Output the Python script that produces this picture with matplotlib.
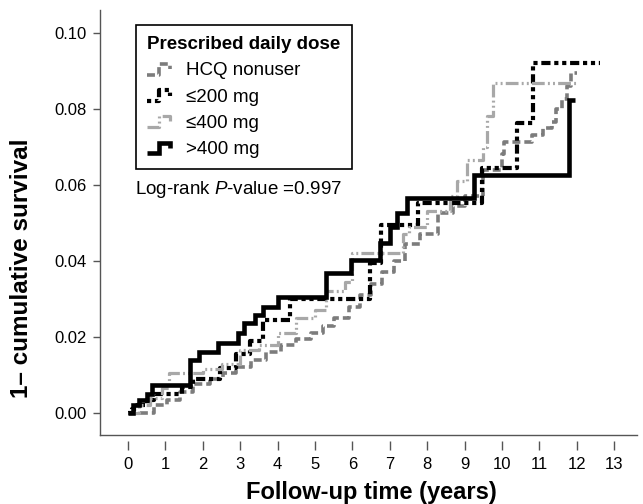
"""Cumulative incidence (1 - survival) by prescribed daily HCQ dose."""

import matplotlib

matplotlib.use("Agg")
import matplotlib.pyplot as plt
from matplotlib.legend_handler import HandlerBase
from matplotlib.lines import Line2D

plt.rcParams["font.family"] = ["Liberation Sans", "DejaVu Sans"]
plt.rcParams["mathtext.fontset"] = "custom"
plt.rcParams["mathtext.rm"] = "Liberation Sans"
plt.rcParams["mathtext.it"] = "Liberation Sans:italic"

# step curves (time in years, 1 - cumulative survival)
nonuser_t = [0, 0.45, 0.7, 1.05, 1.4, 1.75, 2.2, 2.55, 2.9, 3.3, 3.7, 4.1, 4.5, 4.9, 5.2, 5.5,
             5.9, 6.2, 6.5, 6.8, 7.1, 7.4, 7.8, 8.3, 8.7, 9.0, 9.5, 10.0, 10.05, 10.8, 11.1,
             11.35, 11.45, 11.6, 11.75, 11.85, 12.0]
nonuser_y = [0, 0.0, 0.002, 0.0035, 0.0055, 0.0075, 0.009, 0.0105, 0.012, 0.014, 0.016, 0.018,
             0.0195, 0.021, 0.023, 0.025, 0.028, 0.031, 0.034, 0.037, 0.040, 0.0445, 0.047,
             0.0525, 0.0545, 0.057, 0.064, 0.068, 0.0712, 0.073, 0.075, 0.0766, 0.080, 0.0825,
             0.086, 0.0895, 0.0895]

le200_t = [0, 0.1, 0.25, 0.5, 0.7, 1.45, 1.75, 2.45, 2.9, 3.25, 3.6, 4.33, 6.47, 6.76, 7.76,
           9.47, 10.4, 10.84, 12.63]
le200_y = [0, 0.001, 0.002, 0.0035, 0.005, 0.0068, 0.0089, 0.0118, 0.0155, 0.019, 0.0245,
           0.030, 0.0395, 0.0495, 0.0553, 0.0645, 0.0763, 0.0921, 0.0921]

le400_t = [0, 0.3, 0.6, 0.9, 1.1, 2.0, 2.5, 3.0, 3.5, 4.0, 4.5, 5.0, 5.3, 5.8, 6.0, 6.7, 7.35,
           7.5, 8.0, 8.6, 8.8, 9.07, 9.5, 9.6, 9.77, 12.0]
le400_y = [0, 0.002, 0.004, 0.0065, 0.0105, 0.0115, 0.013, 0.0165, 0.018, 0.021, 0.025, 0.027,
           0.032, 0.0345, 0.042, 0.042, 0.047, 0.049, 0.053, 0.057, 0.061, 0.0665, 0.070,
           0.078, 0.0868, 0.0868]

gt400_t = [0, 0.12, 0.3, 0.5, 0.65, 1.65, 1.9, 2.4, 2.95, 3.1, 3.4, 3.6, 4.0, 5.3, 5.95, 6.75,
           7.0, 7.2, 7.45, 9.25, 11.8, 11.95]
gt400_y = [0, 0.002, 0.0035, 0.005, 0.0073, 0.014, 0.016, 0.0184, 0.021, 0.0237, 0.0258, 0.028,
           0.0305, 0.0368, 0.0403, 0.0447, 0.049, 0.0526, 0.0566, 0.0626, 0.0824, 0.0824]

labels = ["HCQ nonuser", "\u2264200 mg", "\u2264400 mg", ">400 mg"]
x_ticks = list(range(0, 14))
y_ticks = [0.00, 0.02, 0.04, 0.06, 0.08, 0.10]


class StepHandler(HandlerBase):
    """Draw legend keys as a small step instead of a flat line."""

    def create_artists(self, legend, orig_handle, xdescent, ydescent, width, height, fontsize, trans):
        x0, y0 = -xdescent, -ydescent
        xs = [x0, x0 + 0.45 * width, x0 + 0.45 * width, x0 + 0.9 * width, x0 + 0.9 * width]
        ys = [y0 + 0.05 * height, y0 + 0.05 * height, y0 + 0.85 * height, y0 + 0.85 * height,
              y0 + 0.45 * height]
        line = Line2D(xs, ys)
        self.update_prop(line, orig_handle, legend)
        line.set_drawstyle("default")
        line.set_transform(trans)
        return [line]


fig = plt.figure(figsize=(6.43, 5.04), dpi=100)
ax = fig.add_axes([100 / 643, 69 / 504, 537 / 643, 425 / 504])

styles = [
    dict(color="#7c7c7c", lw=2.6, dashes=(2.2, 1.1)),
    dict(color="black", lw=3.0, dashes=(1.0, 0.9, 1.0, 0.9, 2.2, 0.9)),
    dict(color="#a8a8a8", lw=2.3, dashes=(4.0, 1.0, 0.6, 1.0, 0.6, 1.0)),
    dict(color="black", lw=3.3),
]
series = [(nonuser_t, nonuser_y), (le200_t, le200_y), (le400_t, le400_y), (gt400_t, gt400_y)]
order = [0, 2, 1, 3]
handles = [None] * 4
for i in order:
    t, y = series[i]
    (handles[i],) = ax.step(t, y, where="post", label=labels[i], zorder=2 + i,
                            solid_joinstyle="miter", solid_capstyle="butt", **styles[i])

ax.set_xlim(-0.75, 13.61)
ax.set_ylim(-0.0058, 0.106)
ax.set_xticks(x_ticks)
ax.set_yticks(y_ticks)
ax.set_yticklabels([f"{v:.2f}" for v in y_ticks])

spine_col = "#555555"
for side in ["top", "right"]:
    ax.spines[side].set_visible(False)
ax.spines["left"].set_color(spine_col)
ax.spines["left"].set_linewidth(1.0)
# x ticks sit below a detached baseline
ax.spines["bottom"].set_position(("outward", 4.5))
ax.spines["bottom"].set_visible(False)
ax.plot([0, 1], [0, 0], transform=ax.transAxes, color=spine_col, lw=1.0, clip_on=False)

ax.tick_params(axis="y", length=5, width=1.0, color=spine_col, pad=4.5, labelsize=12)
ax.tick_params(axis="x", length=6.5, width=1.0, color=spine_col, pad=5, labelsize=12)

fig.text(371 / 643, 1 - 492 / 504, "Follow-up time (years)", fontsize=17, fontweight="bold",
         ha="center", va="center")
fig.text(22 / 643, 1 - 268 / 504, "1\u2013 cumulative survival", fontsize=17.5, fontweight="bold",
         ha="center", va="center", rotation=90)

leg = ax.legend(handles=handles, labels=labels, loc="upper left",
                bbox_to_anchor=(136 / 643, 1 - 25 / 504), bbox_transform=fig.transFigure,
                borderaxespad=0, fontsize=13.5, title="Prescribed daily dose",
                title_fontproperties={"weight": "bold", "size": 13.5}, alignment="left",
                handler_map={Line2D: StepHandler()}, handlelength=1.35, handletextpad=0.7,
                labelspacing=0.48, borderpad=0.6, fancybox=False, framealpha=1,
                edgecolor="black")
leg.get_frame().set_linewidth(1.2)

fig.text(135 / 643, 1 - 190 / 504, "Log-rank $P$-value =0.997", fontsize=13.5, va="center")

fig.savefig("out.png", dpi=100)
plt.close(fig)
